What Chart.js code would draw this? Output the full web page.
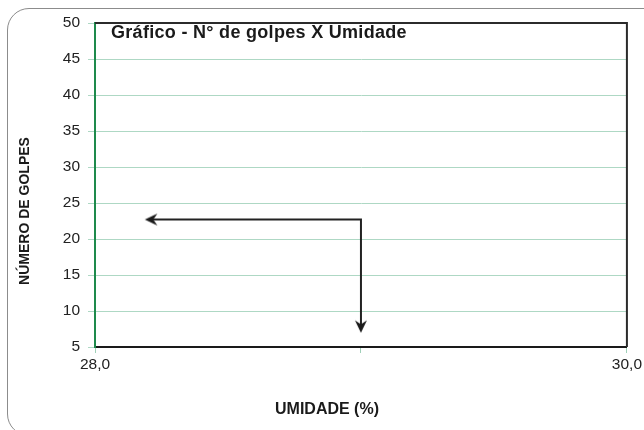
<!DOCTYPE html>
<html>
<head>
<meta charset="utf-8">
<script src="https://cdn.jsdelivr.net/npm/chart.js@4/dist/chart.umd.min.js"></script>
<style>
  body { margin: 0; background: #fff; }
  #wrap { position: relative; width: 644px; height: 430px; overflow: hidden; }
  #frame {
    position: absolute; left: 7px; top: 8px; width: 670px; height: 428px;
    border: 1px solid #8c8c8c; border-radius: 22px; box-sizing: border-box;
  }
  canvas { position: absolute; left: 0; top: 0; }
</style>
</head>
<body>
<div id="wrap">
  <div id="frame"></div>
  <canvas id="chart" width="644" height="430"></canvas>
</div>
<script>
// axis ranges and labels
const xMin = 28, xMax = 30;
const yMin = 5, yMax = 50, yStep = 5;
const xLabels = { 28: '28,0', 30: '30,0' };

// reading arrows: from the left arrowhead, over to the corner, down to the lower arrowhead
const arrowX = [28.21, 29.0, 29.0];
const arrowY = [22.7, 22.7, 7.8];

const chartTitle = 'Gráfico - N° de golpes X Umidade';
const xTitle = 'UMIDADE (%)';
const yTitle = 'NÚMERO DE GOLPES';
const fontFamily = '"Liberation Sans", Arial, Helvetica, sans-serif';

// arrowhead marker (points up, rotated per point)
function makeArrowHead() {
    const c = document.createElement('canvas');
    c.width = 16; c.height = 16;
    const g = c.getContext('2d');
    g.fillStyle = '#1a1a1a';
    g.beginPath();
    g.moveTo(8, 2);
    g.lineTo(14, 14.5);
    g.lineTo(8, 10.5);
    g.lineTo(2, 14.5);
    g.closePath();
    g.fill();
    return c;
}
const arrowHead = makeArrowHead();

// title inside the plot, axis titles, and the top/right frame of the plot area
const plotFrame = {
    id: 'plotFrame',
    afterDraw(chart) {
        const { ctx, chartArea: a } = chart;
        ctx.save();
        ctx.strokeStyle = '#2b2b2b';
        ctx.lineWidth = 2;
        ctx.beginPath();
        ctx.moveTo(a.left, a.top);
        ctx.lineTo(a.right, a.top);
        ctx.lineTo(a.right, a.bottom);
        ctx.stroke();

        ctx.fillStyle = '#1a1a1a';
        ctx.textBaseline = 'middle';
        ctx.font = 'bold 18px ' + fontFamily;
        ctx.letterSpacing = '0.3px';
        ctx.fillText(chartTitle, a.left + 16, a.top + 10);
        ctx.letterSpacing = '0px';

        ctx.textAlign = 'center';
        ctx.font = 'bold 16px ' + fontFamily;
        ctx.fillText(xTitle, 327, 410);

        ctx.translate(25, 211);
        ctx.rotate(-Math.PI / 2);
        ctx.font = 'bold 14px ' + fontFamily;
        ctx.fillText(yTitle, 0, 0);
        ctx.restore();
    }
};

const ctx = document.getElementById('chart').getContext('2d');
new Chart(ctx, {
    type: 'scatter',
    data: {
        datasets: [{
            data: arrowX.map((x, i) => ({ x: x, y: arrowY[i] })),
            showLine: true,
            borderColor: '#222',
            borderWidth: 2,
            backgroundColor: '#222',
            pointStyle: [arrowHead, false, arrowHead],
            pointRadius: [8, 0, 8],
            pointRotation: [-90, 0, 180]
        }]
    },
    options: {
        responsive: false,
        animation: false,
        layout: { padding: { left: 8, top: 23, right: 17, bottom: 8 } },
        plugins: { legend: { display: false }, tooltip: { enabled: false } },
        scales: {
            x: {
                type: 'linear',
                min: xMin,
                max: xMax,
                afterFit(scale) { scale.height = 75; },
                ticks: {
                    stepSize: 1,
                    autoSkip: false,
                    maxRotation: 0,
                    padding: 2,
                    color: '#222',
                    font: { family: fontFamily, size: 15.5 },
                    callback: v => xLabels[v] || ''
                },
                grid: { drawOnChartArea: false, color: '#9fd0b8', tickLength: 6 },
                border: { color: '#1a1a1a', width: 2 }
            },
            y: {
                min: yMin,
                max: yMax,
                afterFit(scale) { scale.width = 87; },
                ticks: {
                    stepSize: yStep,
                    padding: 8,
                    color: '#222',
                    font: { family: fontFamily, size: 15.5 }
                },
                grid: { color: '#aed8c4', tickLength: 7 },
                border: { color: '#1e8a4c', width: 2 }
            }
        }
    },
    plugins: [plotFrame]
});
</script>
</body>
</html>
